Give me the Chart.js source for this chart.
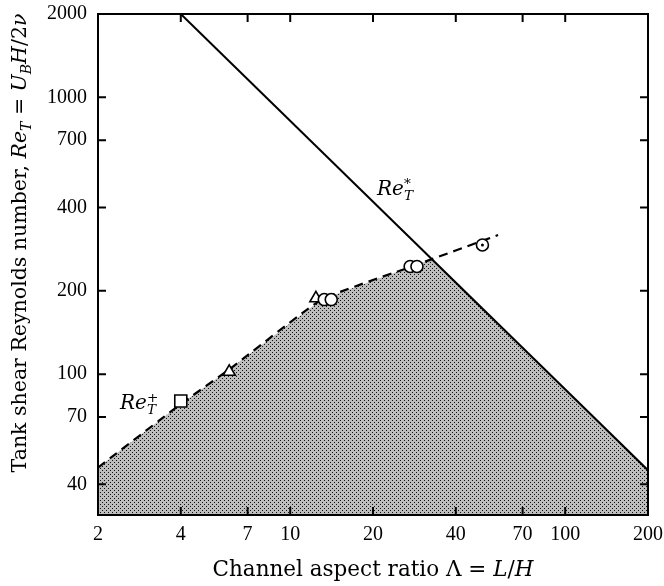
<!DOCTYPE html>
<html>
<head>
<meta charset="utf-8">
<script src="https://cdn.jsdelivr.net/npm/chart.js@4/dist/chart.umd.min.js"></script>
<style>
  html, body { margin: 0; padding: 0; background: #ffffff; }
  #wrap { width: 664px; height: 586px; position: relative; }
</style>
</head>
<body>
<div id="wrap"><canvas id="chart" width="664" height="586"></canvas></div>
<script>
// ============================================
// DATA
// ============================================
const xTicks = [2, 4, 7, 10, 20, 40, 70, 100, 200];
const yTicks = [40, 70, 100, 200, 400, 700, 1000, 2000];

// Re*_T : straight line in log-log
const solidX = [4, 200];
const solidY = [2000, 45];

// Re+_T : dashed curve
const dashX = [2, 4, 6, 13, 28, 57];
const dashY = [46, 78, 104, 186, 246, 318];

// lower envelope of both curves -> stippled region
const shadeX = [2, 4, 6, 13, 28, 32.8, 200];
const shadeY = [46, 78, 104, 186, 246, 260, 45];

// experimental points
const squareX = [4];
const squareY = [80];
const triX = [6, 12.4];
const triY = [102, 188];
const circX = [13.3, 14.1, 27.3, 28.9, 50];
const circY = [186, 186, 245, 245, 293];
const dotX = [50];
const dotY = [293];

const SERIF = '"Liberation Serif", "DejaVu Serif", serif';
const WIDE_SERIF = '"DejaVu Serif", "Liberation Serif", serif';

function toPoints(xs, ys) {
    return xs.map((x, i) => ({ x: x, y: ys[i] }));
}

// stipple pattern for the shaded area
function makeStipple() {
    const c = document.createElement("canvas");
    c.width = 4;
    c.height = 4;
    const g = c.getContext("2d");
    g.fillStyle = "#bdbdbd";
    g.fillRect(0, 0, 4, 4);
    g.fillStyle = "#111111";
    g.fillRect(0, 0, 1, 1);
    g.fillRect(2, 2, 1, 1);
    return g.createPattern(c, "repeat");
}

// ============================================
// RICH TEXT HELPER (italics, sub/superscripts)
// ============================================
function partFont(p, size) {
    const s = (p.sub || p.sup) ? size * 0.68 : size;
    return (p.it ? "italic " : "") + s + "px " + WIDE_SERIF;
}

function drawRich(ctx, parts, x, y, size, align) {
    let total = 0;
    parts.forEach(p => {
        ctx.font = partFont(p, size);
        p.w = ctx.measureText(p.t).width;
        if (!p.stack) total += p.w;
    });
    let cx = align === "center" ? x - total / 2 : x;
    ctx.textBaseline = "middle";
    ctx.textAlign = "left";
    parts.forEach(p => {
        ctx.font = partFont(p, size);
        let dy = 0;
        if (p.sub) dy = size * 0.32;
        if (p.sup) dy = -size * 0.3;
        ctx.fillText(p.t, cx, y + dy);
        if (!p.stack) cx += p.w;
    });
}

// ============================================
// PLUGIN: frame, inward ticks, titles, curve labels
// ============================================
const decorPlugin = {
    id: "decor",
    afterDatasetsDraw(chart) {
        const ctx = chart.ctx;
        const a = chart.chartArea;
        const xs = chart.scales.x;
        const ys = chart.scales.y;
        const tick = 8;

        ctx.save();
        ctx.strokeStyle = "#000";
        ctx.lineWidth = 2;
        ctx.strokeRect(a.left, a.top, a.right - a.left, a.bottom - a.top);

        ctx.beginPath();
        xTicks.forEach(v => {
            const px = xs.getPixelForValue(v);
            ctx.moveTo(px, a.bottom);
            ctx.lineTo(px, a.bottom - tick);
            ctx.moveTo(px, a.top);
            ctx.lineTo(px, a.top + tick);
        });
        yTicks.forEach(v => {
            const py = ys.getPixelForValue(v);
            ctx.moveTo(a.left, py);
            ctx.lineTo(a.left + tick, py);
            ctx.moveTo(a.right, py);
            ctx.lineTo(a.right - tick, py);
        });
        ctx.stroke();

        ctx.fillStyle = "#000";

        // x-axis title
        drawRich(ctx, [
            { t: "Channel aspect ratio Λ = " },
            { t: "L", it: true },
            { t: "/" },
            { t: "H", it: true }
        ], (a.left + a.right) / 2, 570, 21.5, "center");

        // y-axis title (rotated)
        ctx.save();
        ctx.translate(21, 243);
        ctx.rotate(-Math.PI / 2);
        drawRich(ctx, [
            { t: "Tank shear Reynolds number, " },
            { t: "Re", it: true },
            { t: "T", it: true, sub: true },
            { t: " = " },
            { t: "U", it: true },
            { t: "B", it: true, sub: true },
            { t: "H", it: true },
            { t: "/2" },
            { t: "ν", it: true }
        ], 0, 0, 20.5, "center");
        ctx.restore();

        // curve labels
        drawRich(ctx, [
            { t: "Re", it: true },
            { t: "*", it: true, sup: true, stack: true },
            { t: "T", it: true, sub: true }
        ], 377, 190, 20, "left");
        drawRich(ctx, [
            { t: "Re", it: true },
            { t: "+", sup: true, stack: true },
            { t: "T", it: true, sub: true }
        ], 120, 404, 20, "left");

        ctx.restore();
    }
};

// keep the plot box where the reference has it
function noScalePadding(scale) {
    scale.paddingTop = 0;
    scale.paddingBottom = 0;
    scale.paddingLeft = 0;
    scale.paddingRight = 0;
}

// ============================================
// CHART
// ============================================
const ctx = document.getElementById("chart").getContext("2d");

new Chart(ctx, {
    type: "scatter",
    data: {
        datasets: [
            {
                data: toPoints(shadeX, shadeY),
                showLine: true,
                fill: "start",
                backgroundColor: makeStipple(),
                borderWidth: 0,
                pointRadius: 0,
                tension: 0,
                order: 10
            },
            {
                data: toPoints(solidX, solidY),
                showLine: true,
                borderColor: "#000",
                borderWidth: 2,
                pointRadius: 0,
                order: 5
            },
            {
                data: toPoints(dashX, dashY),
                showLine: true,
                borderColor: "#000",
                borderWidth: 2.2,
                borderDash: [9, 6],
                pointRadius: 0,
                tension: 0.12,
                order: 5
            },
            {
                data: toPoints(squareX, squareY),
                pointStyle: "rect",
                pointRadius: 8.5,
                pointBackgroundColor: "#fff",
                pointBorderColor: "#000",
                pointBorderWidth: 1.6,
                order: 1
            },
            {
                data: toPoints(triX, triY),
                pointStyle: "triangle",
                pointRadius: 7,
                pointBackgroundColor: "#fff",
                pointBorderColor: "#000",
                pointBorderWidth: 1.6,
                order: 1
            },
            {
                data: toPoints(circX, circY),
                pointStyle: "circle",
                pointRadius: 6,
                pointBackgroundColor: "#fff",
                pointBorderColor: "#000",
                pointBorderWidth: 1.6,
                order: 0
            },
            {
                data: toPoints(dotX, dotY),
                pointStyle: "circle",
                pointRadius: 1.5,
                pointBackgroundColor: "#000",
                pointBorderWidth: 0,
                order: -1
            }
        ]
    },
    options: {
        responsive: false,
        animation: false,
        events: [],
        layout: { padding: { left: 0, right: 16, top: 14, bottom: 0 } },
        plugins: {
            legend: { display: false },
            tooltip: { enabled: false }
        },
        scales: {
            x: {
                type: "logarithmic",
                min: 2,
                max: 200,
                grid: { display: false, drawTicks: false },
                border: { display: false },
                afterBuildTicks: scale => { scale.ticks = xTicks.map(v => ({ value: v })); },
                afterFit: scale => { scale.height = 71; noScalePadding(scale); },
                ticks: {
                    autoSkip: false,
                    maxRotation: 0,
                    padding: 8,
                    color: "#000",
                    font: { family: SERIF, size: 20 },
                    callback: v => String(v)
                }
            },
            y: {
                type: "logarithmic",
                min: 31,
                max: 2000,
                grid: { display: false, drawTicks: false },
                border: { display: false },
                afterBuildTicks: scale => { scale.ticks = yTicks.map(v => ({ value: v })); },
                afterFit: scale => { scale.width = 98; noScalePadding(scale); },
                ticks: {
                    autoSkip: false,
                    padding: 11,
                    color: "#000",
                    font: { family: SERIF, size: 20 },
                    callback: v => String(v)
                }
            }
        }
    },
    plugins: [decorPlugin]
});
</script>
</body>
</html>
